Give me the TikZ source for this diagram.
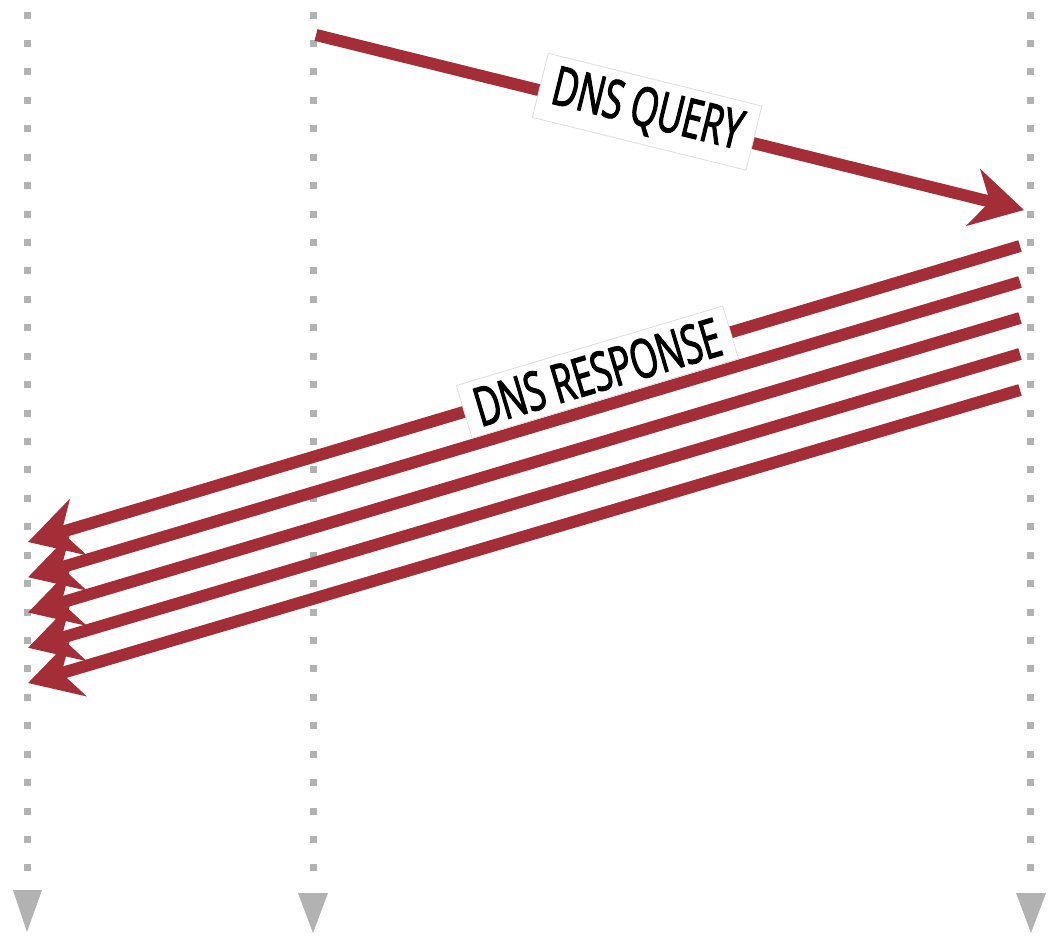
\documentclass[tikz,border=0pt]{standalone}
\usepackage{fontspec}
\newfontfamily\labfont{Open Sans}[FakeStretch=0.65,FakeBold=2]
\usetikzlibrary{arrows.meta}
\definecolor{msgred}{RGB}{163,46,56}
\definecolor{lifegray}{RGB}{178,178,178}
\definecolor{boxgray}{RGB}{222,222,222}
\begin{document}
\begin{tikzpicture}[x=1pt,y=-1pt,
  lifeline/.style={lifegray, line width=7pt, dash pattern=on 7pt off 21.43pt},
  msg/.style={msgred, line width=12pt, -{Stealth[length=52pt,width=58pt,inset=17pt]}},
  msglabel/.style={draw=boxgray, line width=0.8pt, fill=white, text=black,
    font=\labfont\fontsize{54}{54}\selectfont, inner sep=0pt, sloped, anchor=center},
  endtri/.style={fill=lifegray}]
\useasboundingbox (0,0) rectangle (1051,938);
% lifelines
\foreach \x/\n in {27/A,313/B,1030/C}{
  \coordinate (top\n) at (\x,11.5);
  \coordinate (bot\n) at (\x,872);
  \draw[lifeline] (top\n) -- (bot\n);
}
\fill[endtri] (13,890) -- (42,890) -- (27,932) -- cycle;
\fill[endtri] (298,893) -- (328,893) -- (313,933) -- cycle;
\fill[endtri] (1016,893) -- (1046,893) -- (1031,933) -- cycle;
% query
\coordinate (qs) at (316,35);
\coordinate (qe) at (1024,210);
\draw[msg] (qs) -- (qe)
  node[msglabel, pos=0.466, yshift=5pt, minimum width=220pt, minimum height=66pt] (qlabel) {DNS QUERY};
% responses
\foreach \k in {0,...,4}{
  \coordinate (rs\k) at (1020,{246+36*\k});
  \coordinate (re\k) at (28,{542+35.25*\k});
  \draw[msg] (rs\k) -- (re\k);
}
\path (rs0) -- (re0)
  node[msglabel, pos=0.426, minimum width=278pt, minimum height=55pt] (rlabel) {DNS RESPONSE};
\end{tikzpicture}
\end{document}
